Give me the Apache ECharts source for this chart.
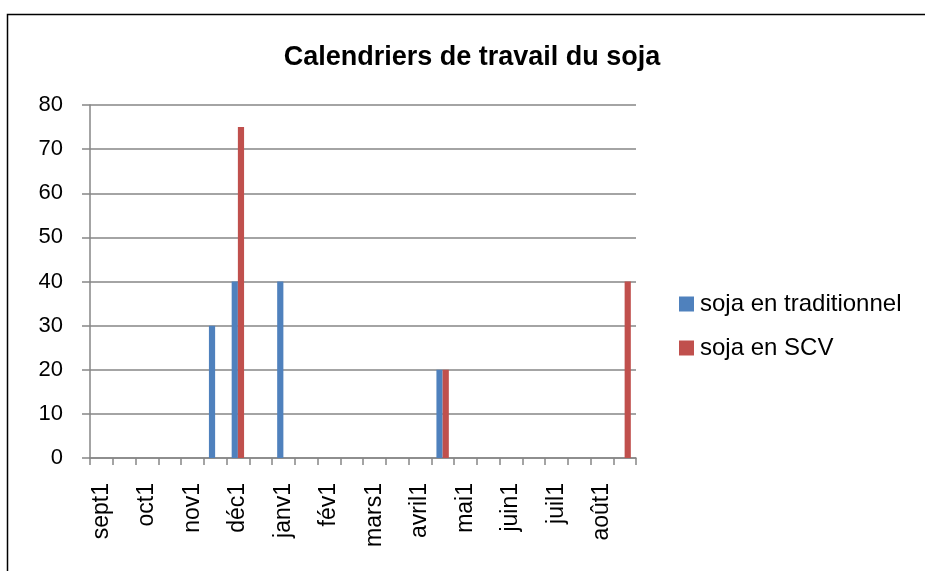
<!DOCTYPE html>
<html>
<head>
<meta charset="utf-8">
<script src="https://cdn.jsdelivr.net/npm/echarts@6/dist/echarts.min.js"></script>
<style>html,body{margin:0;padding:0;background:#fff;}#c{width:925px;height:571px;}</style>
</head>
<body>
<div id="c"></div>
<script>
var categories = ['sept1','sept2','oct1','oct2','nov1','nov2','déc1','déc2','janv1','janv2','fév1','fév2','mars1','mars2','avril1','avril2','mai1','mai2','juin1','juin2','juil1','juil2','août1','août2'];
var traditionnel = [0,0,0,0,0,30,40,0,40,0,0,0,0,0,0,20,0,0,0,0,0,0,0,0];
var scv = [0,0,0,0,0,0,75,0,0,0,0,0,0,0,0,20,0,0,0,0,0,0,0,40];
var seriesNames = ['soja en traditionnel','soja en SCV'];
var yTicks = {min:0, max:80, interval:10};

var FONT = 'Liberation Sans';
var chart = echarts.init(document.getElementById('c'), null, {renderer:'canvas'});
chart.setOption({
  animation:false,
  backgroundColor:'#fff',
  title:{
    text:'Calendriers de travail du soja',
    left:472, top:44, padding:0, textAlign:'center',
    textStyle:{fontFamily:FONT, fontWeight:'bold', fontSize:27, color:'#000'}
  },
  graphic:[{
    type:'rect', left:5, top:12, z:-1,
    shape:{x:0,y:0,width:1000,height:1000},
    style:{fill:'none', stroke:'#000', lineWidth:1.5}
  }],
  legend:{
    orient:'vertical', left:679, top:292, padding:0, itemWidth:15, itemHeight:15, itemGap:20,
    icon:'rect',
    textStyle:{fontFamily:FONT, fontSize:24, color:'#000', padding:[0,0,0,1]},
    data:seriesNames
  },
  grid:{left:90, right:289, top:105, bottom:113},
  xAxis:{
    type:'category', data:categories, boundaryGap:true,
    axisLine:{lineStyle:{color:'#868686', width:1.5}},
    axisTick:{show:true, interval:0, length:7, lineStyle:{color:'#868686', width:1.5}},
    axisLabel:{interval:1, rotate:90, margin:25, fontFamily:FONT, fontSize:23, color:'#000'},
    splitLine:{show:false}
  },
  yAxis:{
    type:'value', min:yTicks.min, max:yTicks.max, interval:yTicks.interval,
    axisLine:{show:true, lineStyle:{color:'#868686', width:1.5}},
    axisTick:{show:true, length:8, lineStyle:{color:'#868686', width:1.5}},
    axisLabel:{margin:27, fontFamily:FONT, fontSize:22, color:'#000'},
    splitLine:{show:true, lineStyle:{color:'#868686', width:1.5}}
  },
  series:[
    {name:seriesNames[0], type:'bar', data:traditionnel, barWidth:6.2, barGap:0, itemStyle:{color:'#4F81BD'}},
    {name:seriesNames[1], type:'bar', data:scv, barWidth:6.2, barGap:0, itemStyle:{color:'#C0504D'}}
  ]
});
</script>
</body>
</html>
